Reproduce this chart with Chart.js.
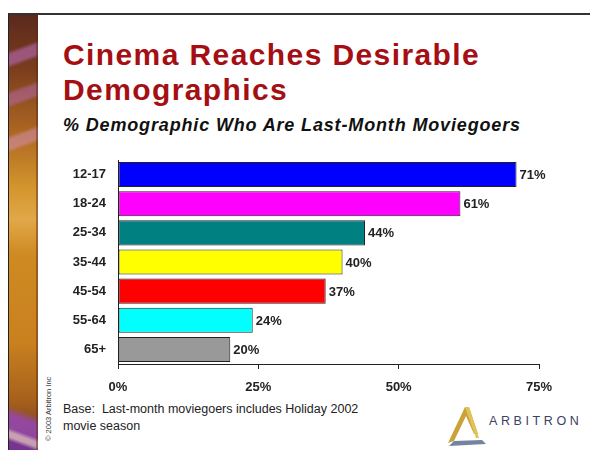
<!DOCTYPE html>
<html>
<head>
<meta charset="utf-8">
<script src="https://cdn.jsdelivr.net/npm/chart.js@4/dist/chart.umd.min.js"></script>
<style>
  html, body { margin: 0; padding: 0; background: #fff; }
  #page { position: relative; width: 590px; height: 450px; overflow: hidden; background: #fff; font-family: Arial, "Liberation Sans", sans-serif; }
  #frame { position: absolute; left: 8px; top: 13px; right: -2px; bottom: -2px; border-top: 2px solid #333; border-left: 1px solid #222; }
  #strip { position: absolute; left: 9px; top: 15px; width: 29px; bottom: 0;
    background:
      linear-gradient(160deg, transparent 0 8%, rgba(190,110,200,0.55) 9% 11%, transparent 12% 17%, rgba(190,110,200,0.45) 18% 20%, transparent 21% 27%, rgba(220,150,210,0.45) 28% 30%, transparent 31%),
      linear-gradient(200deg, transparent 0 90%, rgba(150,70,190,0.8) 92% 95%, rgba(230,200,240,0.7) 96% 97%, rgba(120,50,170,0.8) 98%),
      linear-gradient(180deg, #5b2a1c 0%, #7a3c1e 12%, #b06a22 28%, #d4962e 40%, #e0a84a 47%, #cf8a22 55%, #c98120 75%, #a9621c 88%, #6f3620 100%);
  }
  #stripEdge { position: absolute; left: 36px; top: 15px; width: 2px; bottom: 0; background: rgba(90,40,20,0.45); }
  #title { position: absolute; left: 63px; top: 36.5px; color: #a50f14; font-weight: bold; font-size: 30px; line-height: 35px; letter-spacing: 1.4px; white-space: nowrap; }
  #subtitle { position: absolute; left: 63px; top: 114.5px; color: #111; font-weight: bold; font-style: italic; font-size: 18px; line-height: 20px; letter-spacing: 0.85px; white-space: nowrap; }
  #copy { position: absolute; left: 44px; top: 441px; transform-origin: 0 0; transform: rotate(-90deg); font-size: 7.5px; color: #333; white-space: nowrap; }
  #base { position: absolute; left: 63px; top: 401px; font-size: 12.5px; line-height: 17px; color: #222; white-space: nowrap; }
  #logoText { position: absolute; left: 489px; top: 414px; font-size: 12.5px; letter-spacing: 3.6px; color: #3b4263; }
  #logo { position: absolute; left: 446px; top: 403px; }
  canvas { position: absolute; left: 0; top: 0; }
</style>
</head>
<body>
<div id="page">
  <div id="frame"></div>
  <div id="strip"></div>
  <div id="stripEdge"></div>
  <div id="title">Cinema Reaches Desirable<br>Demographics</div>
  <div id="subtitle">% Demographic Who Are Last-Month Moviegoers</div>
  <div id="copy">© 2003 Arbitron Inc</div>
  <div id="base">Base:&nbsp; Last-month moviegoers includes Holiday 2002<br>movie season</div>
  <svg id="logo" width="42" height="44" viewBox="0 0 42 44">
    <polygon points="2,40 19,4 23,4 32,31 28,31 20,13 8,38" fill="#c9a23a"/>
    <polygon points="8,38 36,37 40,41 3,43" fill="#5b6e8e" opacity="0.85"/>
    <polygon points="19,4 23,4 33,35 30,35" fill="#e3c25a"/>
  </svg>
  <div id="logoText">ARBITRON</div>
  <canvas id="chart" width="590" height="450"></canvas>
</div>
<script>
// Age groups and share of each who went to the cinema in the last month
const ageGroups = ['12-17', '18-24', '25-34', '35-44', '45-54', '55-64', '65+'];
const moviegoerPct = [71, 61, 44, 40, 37, 24, 20];
const barColors = ['#0000ff', '#ff00ff', '#008080', '#ffff00', '#ff0000', '#00ffff', '#999999'];
const xTicks = [0, 25, 50, 75];

// Writes the percentage just past the end of each bar
const valueLabels = {
  id: 'valueLabels',
  afterDatasetsDraw(chart) {
    const ctx = chart.ctx;
    const meta = chart.getDatasetMeta(0);
    ctx.save();
    ctx.font = 'bold 13px Arial, "Liberation Sans", sans-serif';
    ctx.fillStyle = '#222';
    ctx.textAlign = 'left';
    ctx.textBaseline = 'middle';
    meta.data.forEach((bar, i) => {
      ctx.fillText(moviegoerPct[i] + '%', bar.x + 3, bar.y + 1);
    });
    ctx.restore();
  }
};

new Chart(document.getElementById('chart'), {
  type: 'bar',
  data: {
    labels: ageGroups,
    datasets: [{
      data: moviegoerPct,
      backgroundColor: barColors,
      borderColor: '#222',
      borderWidth: 1,
      borderSkipped: false,
      barPercentage: 0.86,
      categoryPercentage: 1
    }]
  },
  options: {
    indexAxis: 'y',
    responsive: false,
    animation: false,
    layout: { padding: { left: 40, top: 160, right: 51, bottom: 50 } },
    plugins: { legend: { display: false }, tooltip: { enabled: false } },
    scales: {
      x: {
        min: 0,
        max: 75,
        afterBuildTicks(scale) { scale.ticks = xTicks.map(v => ({ value: v })); },
        afterFit(scale) { scale.height = 36; },
        grid: { drawOnChartArea: false, drawTicks: true, tickLength: 5, color: '#222' },
        border: { color: '#222', width: 1 },
        ticks: {
          padding: 11,
          color: '#222',
          font: { family: 'Arial, "Liberation Sans", sans-serif', size: 13, weight: 'bold' },
          callback: v => v + '%'
        }
      },
      y: {
        afterFit(scale) { scale.width = 78; },
        grid: { display: true, drawOnChartArea: false, drawTicks: false },
        border: { color: '#222', width: 1 },
        ticks: {
          padding: 12,
          color: '#222',
          font: { family: 'Arial, "Liberation Sans", sans-serif', size: 13, weight: 'bold' }
        }
      }
    }
  },
  plugins: [valueLabels]
});
</script>
</body>
</html>
